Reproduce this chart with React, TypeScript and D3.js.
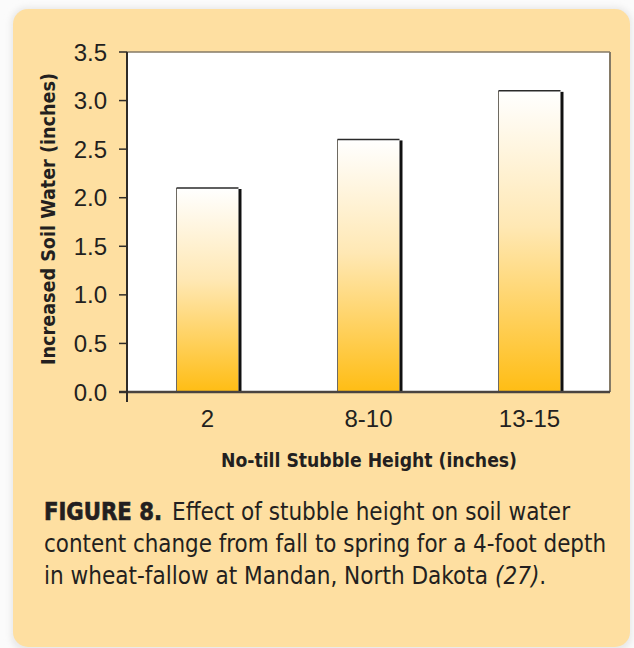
import React from "react";
import * as d3 from "d3";

const categories = ["2", "8-10", "13-15"];
const values = [2.1, 2.6, 3.1];
const yTicks = [0, 0.5, 1.0, 1.5, 2.0, 2.5, 3.0, 3.5];
const xTitle = "No-till Stubble Height (inches)";
const yTitle = "Increased Soil Water (inches)";
const captionBold = "FIGURE 8.";
const captionLine1 = "Effect of stubble height on soil water";
const captionLine2 = "content change from fall to spring for a 4-foot depth";
const captionLine3a = "in wheat-fallow at Mandan, North Dakota";
const captionLine3b = "(27)";

export default function App() {
  const W = 634;
  const H = 648;
  const left = 127;
  const right = 610;
  const top = 52;
  const bottom = 392;

  const x = d3
    .scaleBand<string>()
    .domain(categories)
    .range([left, right])
    .paddingInner(0.615)
    .paddingOuter(0.3075);
  const y = d3.scaleLinear().domain([0, 3.5]).range([bottom, top]);

  const textColor = "#231f20";
  const sans = "Liberation Sans, Arial, sans-serif";
  const narrow = "Liberation Sans Narrow, DejaVu Sans Condensed, Liberation Sans, Arial, sans-serif";

  return (
    <svg
      width={W}
      height={H}
      style={{ position: "absolute", left: 0, top: 0 }}
      xmlns="http://www.w3.org/2000/svg"
    >
      <defs>
        <linearGradient id="barGrad" x1="0" y1="0" x2="0" y2="1">
          <stop offset="0%" stopColor="#ffffff" />
          <stop offset="45%" stopColor="#ffe8b4" />
          <stop offset="100%" stopColor="#ffbd14" />
        </linearGradient>
        <filter id="shadow" x="-5%" y="-5%" width="110%" height="110%">
          <feGaussianBlur stdDeviation="3" />
        </filter>
      </defs>
      <rect x={0} y={0} width={W} height={H} fill="#fbfbfb" />
      <rect x={11} y={7} width={621} height={645} rx={16} fill="#e8e8e8" filter="url(#shadow)" />
      <rect x={13} y={9} width={617} height={638} rx={15} fill="#fedfa1" />

      {/* plot area */}
      <rect x={left} y={top} width={right - left} height={bottom - top} fill="#ffffff" />
      <line x1={left} x2={right} y1={top} y2={top} stroke="#857a66" strokeWidth={1.5} />
      <line x1={right} x2={right} y1={top} y2={bottom} stroke="#857a66" strokeWidth={2} />

      {/* bars */}
      {categories.map((c, i) => {
        const bx = x(c)!;
        const bw = x.bandwidth();
        const by = y(values[i]);
        const bh = bottom - by;
        return (
          <g key={c}>
            <rect x={bx} y={by} width={bw} height={bh} fill="url(#barGrad)" />
            <line x1={bx} x2={bx} y1={by} y2={bottom} stroke="#6e6a62" strokeWidth={1} />
            <line x1={bx} x2={bx + bw} y1={by} y2={by} stroke="#2a2a2a" strokeWidth={1.5} />
            <rect x={bx + bw} y={by + 1} width={3} height={bh - 1} fill="#111111" />
          </g>
        );
      })}

      {/* axes */}
      <line x1={119} x2={right} y1={bottom} y2={bottom} stroke="#4a4440" strokeWidth={2.5} />
      <line x1={left} x2={left} y1={top} y2={402} stroke="#2f2b28" strokeWidth={2} />
      {yTicks.map((t) => (
        <g key={t}>
          <line x1={119} x2={left} y1={y(t)} y2={y(t)} stroke="#2f2b28" strokeWidth={1.5} />
          <text
            x={107}
            y={y(t)}
            dy="0.36em"
            textAnchor="end"
            fontFamily={sans}
            fontSize={24}
            fill={textColor}
          >
            {t.toFixed(1)}
          </text>
        </g>
      ))}
      {categories.map((c) => (
        <text
          key={c}
          x={x(c)! + x.bandwidth() / 2}
          y={427}
          textAnchor="middle"
          fontFamily={sans}
          fontSize={24}
          fill={textColor}
        >
          {c}
        </text>
      ))}

      {/* axis titles */}
      <text
        x={221}
        y={467}
        fontFamily={narrow}
        fontWeight="bold"
        fontSize={20}
        fill={textColor}
        textLength={296}
        lengthAdjust="spacingAndGlyphs"
      >
        {xTitle}
      </text>
      <text
        transform="translate(55,365) rotate(-90)"
        x={0}
        y={0}
        fontFamily={narrow}
        fontWeight="bold"
        fontSize={19}
        fill={textColor}
        textLength={292}
        lengthAdjust="spacingAndGlyphs"
      >
        {yTitle}
      </text>

      {/* caption */}
      <text
        x={44}
        y={520}
        fontFamily={narrow}
        fontWeight="900"
        fontSize={24}
        fill={textColor}
        textLength={118}
        lengthAdjust="spacingAndGlyphs"
        stroke={textColor}
        strokeWidth={0.6}
      >
        {captionBold}
      </text>
      <text
        x={172}
        y={520}
        fontFamily={narrow}
        fontSize={24}
        fill={textColor}
        textLength={398}
        lengthAdjust="spacingAndGlyphs"
      >
        {captionLine1}
      </text>
      <text
        x={44}
        y={552}
        fontFamily={narrow}
        fontSize={24}
        fill={textColor}
        textLength={562}
        lengthAdjust="spacingAndGlyphs"
      >
        {captionLine2}
      </text>
      <text
        x={44}
        y={584}
        fontFamily={narrow}
        fontSize={24}
        fill={textColor}
        textLength={444}
        lengthAdjust="spacingAndGlyphs"
      >
        {captionLine3a}
      </text>
      <text x={495} y={584} fontFamily={narrow} fontSize={24} fill={textColor}>
        <tspan fontStyle="italic">{captionLine3b}</tspan>
        <tspan>.</tspan>
      </text>
    </svg>
  );
}
